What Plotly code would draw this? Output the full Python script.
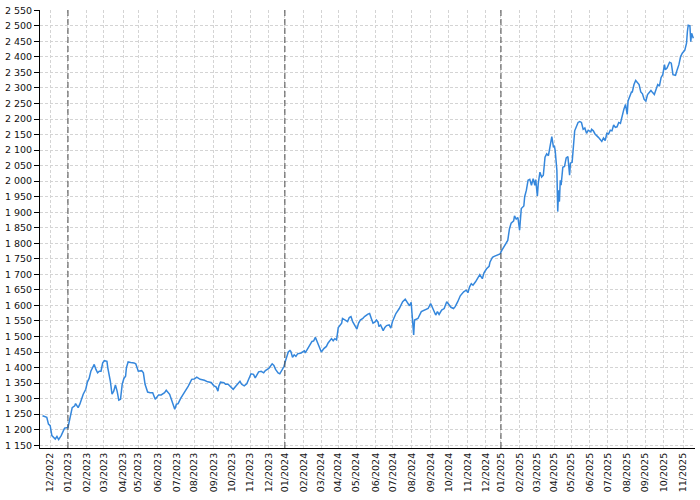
import plotly.graph_objects as go

dates = [
    "2022-11-18", "2022-11-23", "2022-11-25", "2022-11-29", "2022-12-01", "2022-12-05", "2022-12-07",
    "2022-12-09", "2022-12-13", "2022-12-15", "2022-12-20", "2022-12-27",
    "2023-01-02", "2023-01-04", "2023-01-09", "2023-01-12", "2023-01-13", "2023-01-18", "2023-01-20",
    "2023-01-26", "2023-01-31", "2023-02-02", "2023-02-06", "2023-02-08", "2023-02-10", "2023-02-14",
    "2023-02-16", "2023-02-20", "2023-02-22", "2023-02-24", "2023-02-28", "2023-03-02", "2023-03-07",
    "2023-03-08", "2023-03-13", "2023-03-15", "2023-03-17", "2023-03-21", "2023-03-23", "2023-03-27",
    "2023-03-29", "2023-03-31", "2023-04-04", "2023-04-06", "2023-04-11", "2023-04-13", "2023-04-18",
    "2023-04-24", "2023-04-26", "2023-05-01", "2023-05-05", "2023-05-09", "2023-05-11", "2023-05-16",
    "2023-05-19", "2023-05-24", "2023-05-29", "2023-06-02", "2023-06-07", "2023-06-13", "2023-06-15",
    "2023-06-21", "2023-06-23", "2023-06-27", "2023-06-29", "2023-07-03", "2023-07-05", "2023-07-10",
    "2023-07-13", "2023-07-18", "2023-07-21", "2023-07-27", "2023-08-01", "2023-08-04", "2023-08-10",
    "2023-08-17", "2023-08-23", "2023-08-29", "2023-09-01", "2023-09-06", "2023-09-08", "2023-09-11",
    "2023-09-13", "2023-09-19", "2023-09-21", "2023-09-26", "2023-09-29", "2023-10-04", "2023-10-09",
    "2023-10-11", "2023-10-16", "2023-10-18", "2023-10-23", "2023-10-26", "2023-10-30", "2023-11-02",
    "2023-11-07", "2023-11-09", "2023-11-15", "2023-11-20", "2023-11-23", "2023-11-27", "2023-12-01",
    "2023-12-07", "2023-12-11", "2023-12-13", "2023-12-18", "2023-12-20", "2023-12-27", "2023-12-29",
    "2024-01-02", "2024-01-04", "2024-01-08", "2024-01-10", "2024-01-11", "2024-01-15", "2024-01-17",
    "2024-01-19", "2024-01-23", "2024-01-29", "2024-01-31", "2024-02-02", "2024-02-05", "2024-02-07",
    "2024-02-09", "2024-02-13", "2024-02-15", "2024-02-19", "2024-02-21", "2024-02-23", "2024-02-27",
    "2024-03-01", "2024-03-06", "2024-03-11", "2024-03-13", "2024-03-15", "2024-03-19", "2024-03-21",
    "2024-03-25", "2024-03-27", "2024-03-28", "2024-04-02", "2024-04-03", "2024-04-08", "2024-04-09",
    "2024-04-12", "2024-04-17", "2024-04-19", "2024-04-23", "2024-04-25", "2024-05-02", "2024-05-06",
    "2024-05-08", "2024-05-13", "2024-05-15", "2024-05-21", "2024-05-23", "2024-05-27", "2024-05-29",
    "2024-05-31", "2024-06-04", "2024-06-06", "2024-06-07", "2024-06-11", "2024-06-14", "2024-06-18",
    "2024-06-20", "2024-06-25", "2024-06-27", "2024-07-01", "2024-07-05", "2024-07-11", "2024-07-17",
    "2024-07-22", "2024-07-25", "2024-07-29", "2024-07-31", "2024-08-05", "2024-08-06", "2024-08-12",
    "2024-08-16", "2024-08-22", "2024-08-28", "2024-09-02", "2024-09-05", "2024-09-10", "2024-09-12",
    "2024-09-16", "2024-09-19", "2024-09-24", "2024-09-27", "2024-10-02", "2024-10-04", "2024-10-09",
    "2024-10-11", "2024-10-16", "2024-10-21", "2024-10-25", "2024-10-30", "2024-11-01", "2024-11-05",
    "2024-11-07", "2024-11-11", "2024-11-14", "2024-11-19", "2024-11-21", "2024-11-26", "2024-11-28",
    "2024-12-03", "2024-12-06", "2024-12-09", "2024-12-12", "2024-12-16", "2024-12-19", "2024-12-30",
    "2025-01-03", "2025-01-07", "2025-01-10", "2025-01-14", "2025-01-16", "2025-01-20", "2025-01-23",
    "2025-01-24", "2025-01-28", "2025-01-30", "2025-02-03", "2025-02-05", "2025-02-10", "2025-02-11",
    "2025-02-13", "2025-02-17", "2025-02-19", "2025-02-21", "2025-02-25", "2025-02-27", "2025-02-28",
    "2025-03-04", "2025-03-05", "2025-03-07", "2025-03-11", "2025-03-13", "2025-03-17", "2025-03-19",
    "2025-03-21", "2025-03-25", "2025-03-27", "2025-03-31", "2025-04-01", "2025-04-02", "2025-04-04",
    "2025-04-07", "2025-04-08", "2025-04-09", "2025-04-10", "2025-04-11", "2025-04-15", "2025-04-17",
    "2025-04-23", "2025-04-25", "2025-04-29", "2025-04-30", "2025-05-02", "2025-05-07", "2025-05-09",
    "2025-05-13", "2025-05-15", "2025-05-19", "2025-05-21", "2025-05-23", "2025-05-27", "2025-05-29",
    "2025-06-03", "2025-06-04", "2025-06-06", "2025-06-10", "2025-06-16", "2025-06-18", "2025-06-20",
    "2025-06-24", "2025-06-26", "2025-06-30", "2025-07-02", "2025-07-04", "2025-07-08", "2025-07-10",
    "2025-07-14", "2025-07-16", "2025-07-18", "2025-07-22", "2025-07-24", "2025-07-28", "2025-07-30",
    "2025-08-01", "2025-08-04", "2025-08-06", "2025-08-08", "2025-08-11", "2025-08-13", "2025-08-15",
    "2025-08-19", "2025-08-21", "2025-08-25", "2025-08-27", "2025-08-29", "2025-09-02", "2025-09-04",
    "2025-09-08", "2025-09-10", "2025-09-12", "2025-09-16", "2025-09-18", "2025-09-22", "2025-09-24",
    "2025-09-26", "2025-09-30", "2025-10-02", "2025-10-03", "2025-10-07", "2025-10-10", "2025-10-14",
    "2025-10-16", "2025-10-21", "2025-10-23", "2025-10-27", "2025-10-29", "2025-10-31", "2025-11-05",
    "2025-11-07", "2025-11-10", "2025-11-11", "2025-11-13", "2025-11-14", "2025-11-17", "2025-11-19",
]

values = [
    1245, 1241, 1240, 1218, 1213, 1181, 1176,
    1170, 1178, 1168, 1181, 1205,
    1207, 1234, 1271, 1277, 1284, 1271, 1282,
    1314, 1330, 1354, 1365, 1388, 1400, 1410,
    1394, 1383, 1388, 1388, 1415, 1422, 1420,
    1399, 1356, 1314, 1324, 1344, 1324, 1295,
    1298, 1346, 1365, 1372, 1400, 1418, 1416,
    1415, 1412, 1388, 1390, 1383, 1346, 1321,
    1319, 1319, 1298, 1312, 1312, 1319, 1327,
    1314, 1298, 1282, 1266, 1282, 1284, 1301,
    1314, 1330, 1340, 1362, 1363, 1369, 1362,
    1359, 1354, 1352, 1342, 1337, 1324, 1340,
    1353, 1351, 1346, 1346, 1337, 1330, 1340,
    1348, 1356, 1346, 1341, 1348, 1362, 1380,
    1378, 1367, 1386, 1388, 1383, 1390, 1397,
    1412, 1407, 1394, 1383, 1380, 1394, 1404,
    1415, 1436, 1450, 1455, 1452, 1433, 1441,
    1436, 1444, 1447, 1450, 1454, 1447, 1457,
    1468, 1476, 1484, 1486, 1497, 1484, 1468,
    1450, 1461, 1468, 1479, 1486, 1493, 1486,
    1493, 1489, 1516, 1529, 1532, 1543, 1558,
    1553, 1548, 1561, 1564, 1548, 1524, 1543,
    1553, 1558, 1564, 1572, 1574, 1558, 1543,
    1546, 1553, 1546, 1532, 1537, 1519, 1529,
    1535, 1537, 1527, 1548, 1574, 1590, 1612,
    1620, 1606, 1599, 1610, 1505, 1553, 1558,
    1580, 1585, 1590, 1606, 1590, 1569, 1580,
    1571, 1585, 1590, 1612, 1601, 1594, 1590,
    1596, 1612, 1631, 1644, 1649, 1641, 1660,
    1670, 1665, 1676, 1688, 1699, 1686, 1705,
    1718, 1726, 1739, 1755, 1758, 1761, 1766,
    1777, 1787, 1803, 1809, 1846, 1865, 1872,
    1888, 1878, 1883, 1842, 1912, 1920, 1950,
    1971, 2003, 2006, 1987, 2008, 1987, 2005,
    1952, 1992, 2029, 2013, 2019, 2077, 2088,
    2082, 2120, 2143, 2109, 2114, 2098, 2035,
    1902, 1971, 1934, 2003, 1987, 2045, 2047,
    2075, 2079, 2019, 2058, 2061, 2162, 2178,
    2189, 2192, 2189, 2167, 2171, 2154, 2164,
    2159, 2167, 2162, 2152, 2141, 2136, 2128,
    2139, 2131, 2154, 2152, 2164, 2162, 2181,
    2173, 2175, 2189, 2186, 2215, 2231, 2247,
    2215, 2258, 2274, 2287, 2287, 2311, 2324,
    2319, 2311, 2287, 2281, 2263, 2258, 2279,
    2285, 2292, 2285, 2279, 2295, 2311, 2306,
    2334, 2343, 2375, 2359, 2364, 2383, 2380,
    2343, 2341, 2359, 2375, 2401, 2412, 2422,
    2444, 2481, 2502, 2500, 2449, 2476, 2460,
]

tick_dates = [
    "2022-12-01", "2023-01-02", "2023-02-01", "2023-03-01", "2023-04-03", "2023-05-01",
    "2023-06-01", "2023-07-03", "2023-08-01", "2023-09-01", "2023-10-02", "2023-11-01",
    "2023-12-01", "2024-01-02", "2024-02-01", "2024-03-01", "2024-04-02", "2024-05-01",
    "2024-06-03", "2024-07-01", "2024-08-01", "2024-09-02", "2024-10-01", "2024-11-01",
    "2024-12-02", "2025-01-02", "2025-02-03", "2025-03-03", "2025-04-01", "2025-05-01",
    "2025-06-02", "2025-07-01", "2025-08-01", "2025-09-01", "2025-10-01", "2025-11-03",
]
tick_labels = [d[5:7] + "/" + d[:4] for d in tick_dates]

year_lines = ["2023-01-02", "2024-01-02", "2025-01-02"]

holidays = [
    "2022-12-26", "2023-04-07", "2023-04-10", "2023-12-25", "2023-12-26", "2024-01-01",
    "2024-03-29", "2024-04-01", "2024-12-24", "2024-12-25", "2024-12-26", "2024-12-31",
    "2025-01-01", "2025-04-18", "2025-04-21",
]

fig = go.Figure(
    go.Scatter(
        x=dates, y=values, mode="lines",
        line=dict(color="#3587dc", width=1.5),
        hoverinfo="skip",
    )
)

grid = "#d4d4d4"
fig.update_layout(
    width=700, height=500,
    margin=dict(l=39, r=5, t=5, b=52),
    plot_bgcolor="white", paper_bgcolor="white",
    showlegend=False,
    separators=". ",
    font=dict(family="DejaVu Sans", size=9.5, color="#111"),
    shapes=[
        dict(type="line", xref="x", yref="paper", x0=d, x1=d, y0=0, y1=1,
             line=dict(color="#4a4a4a", width=1, dash="6px,3px"), layer="above")
        for d in year_lines
    ],
)
fig.update_xaxes(
    type="date",
    range=["2022-11-15", "2025-11-21"],
    rangebreaks=[dict(bounds=["sat", "mon"]), dict(values=holidays)],
    tickmode="array", tickvals=tick_dates, ticktext=tick_labels,
    tickangle=-90,
    showgrid=True, gridcolor=grid, gridwidth=1, griddash="3px,2px",
    showline=True, linecolor="black", linewidth=1,
    ticks="", zeroline=False,
)
fig.update_yaxes(
    range=[1141, 2551],
    tick0=1150, dtick=50,
    separatethousands=True,
    showgrid=True, gridcolor=grid, gridwidth=1, griddash="3px,2px",
    showline=True, linecolor="black", linewidth=1,
    ticks="outside", ticklen=5, tickcolor="black",
    ticklabeloverflow="allow",
    zeroline=False,
)

fig.write_html(
    "out.html",
    config={"displayModeBar": False},
    post_script="document.body.style.margin='0';document.body.style.overflow='hidden';",
)
